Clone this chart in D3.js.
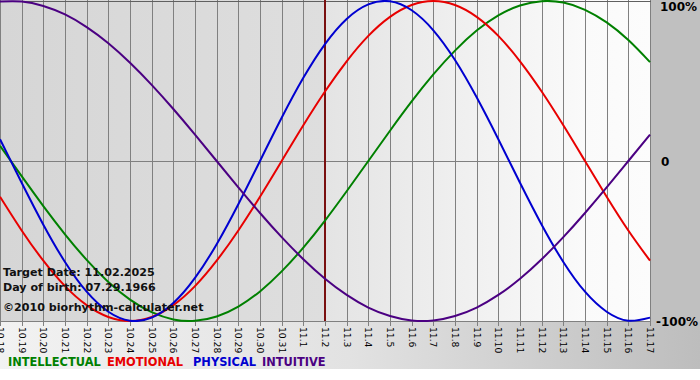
<!DOCTYPE html>
<html><head><meta charset="utf-8">
<script src="https://cdn.jsdelivr.net/npm/d3@7"></script>
<style>html,body{margin:0;padding:0;background:#fff;}svg{display:block;}</style>
</head><body>
<script>
const dates = ["10.18","10.19","10.20","10.21","10.22","10.23","10.24","10.25","10.26","10.27","10.28","10.29","10.30","10.31","11.1","11.2","11.3","11.4","11.5","11.6","11.7","11.8","11.9","11.10","11.11","11.12","11.13","11.14","11.15","11.16","11.17"];
const physical = [0.136,-0.136,-0.398,-0.631,-0.817,-0.942,-0.998,-0.979,-0.888,-0.731,-0.520,-0.270,0,0.270,0.520,0.731,0.888,0.979,0.998,0.942,0.817,0.631,0.398,0.136,-0.136,-0.398,-0.631,-0.817,-0.942,-0.998,-0.979];
const emotional = [-0.223,-0.434,-0.623,-0.782,-0.901,-0.975,-1.000,-0.975,-0.901,-0.782,-0.623,-0.434,-0.223,0,0.223,0.434,0.623,0.782,0.901,0.975,1.000,0.975,0.901,0.782,0.623,0.434,0.223,0,-0.223,-0.434,-0.623];
const intellectual = [0.095,-0.095,-0.282,-0.458,-0.618,-0.756,-0.866,-0.945,-0.990,-0.999,-0.972,-0.910,-0.815,-0.690,-0.541,-0.372,-0.189,0,0.189,0.372,0.541,0.690,0.815,0.910,0.972,0.999,0.990,0.945,0.866,0.756,0.618];
const intuitive = [0.997,0.997,0.969,0.916,0.837,0.736,0.614,0.476,0.325,0.165,0,-0.165,-0.325,-0.476,-0.614,-0.736,-0.837,-0.916,-0.969,-0.997,-0.997,-0.969,-0.916,-0.837,-0.736,-0.614,-0.476,-0.325,-0.165,0,0.165];
const yTicks = [1, 0, -1];
const yTickLabels = ["100%", "0", "-100%"];
const targetDate = "11.2";
const infoLines = ["Target Date: 11.02.2025", "Day of birth: 07.29.1966", "\u00a92010 biorhythm-calculater.net"];
const legendNames = ["INTELLECTUAL", "EMOTIONAL", "PHYSICAL", "INTUITIVE"];

const W = 700, H = 380;
const plotL = 0, plotR = 650, plotT = 1, plotB = 321;
const colors = {INTELLECTUAL:"#008000", EMOTIONAL:"#e80000", PHYSICAL:"#0000d0", INTUITIVE:"#4b0082"};
const seriesList = [
  {name:"INTELLECTUAL", values:intellectual},
  {name:"EMOTIONAL", values:emotional},
  {name:"PHYSICAL", values:physical},
  {name:"INTUITIVE", values:intuitive}
];

const svg = d3.select("body").append("svg").attr("width", W).attr("height", H);
const defs = svg.append("defs");
function grad(id, stops){
  const g = defs.append("linearGradient").attr("id", id).attr("x1","0").attr("x2","1").attr("y1","0").attr("y2","0");
  stops.forEach(s => g.append("stop").attr("offset", s[0]).attr("stop-color", s[1]));
}
grad("gBottom", [[0,"#f2f2f2"],[0.5,"#e2e2e2"],[1,"#bdbdbd"]]);
grad("gLeft", [[0,"#d6d6d6"],[1,"#dedede"]]);
grad("gRight", [[0,"#e4e4e4"],[0.8,"#fafafa"],[1,"#fcfcfc"]]);

const x = d3.scaleLinear().domain([0, dates.length - 1]).range([plotL, plotR]);
const y = d3.scaleLinear().domain([-1, 1]).range([plotB, plotT]);
const tIdx = dates.indexOf(targetDate);

// backgrounds
svg.append("rect").attr("x",0).attr("y",0).attr("width",W).attr("height",369).attr("fill","url(#gBottom)");
svg.append("rect").attr("x",plotR+1).attr("y",0).attr("width",W-plotR-1).attr("height",plotB+1).attr("fill","#c0c0c0");
svg.append("rect").attr("x",plotL).attr("y",0).attr("width",x(tIdx)-plotL).attr("height",plotB).attr("fill","url(#gLeft)");
svg.append("rect").attr("x",x(tIdx)).attr("y",0).attr("width",plotR-x(tIdx)).attr("height",plotB).attr("fill","url(#gRight)");

// vertical grid + tick marks via axis
const xAxis = d3.axisBottom(x).tickValues(d3.range(dates.length)).tickFormat(i => dates[i]).tickSize(plotB + 5).tickSizeOuter(0);
const gx = svg.append("g").attr("transform","translate(0,0)").call(xAxis);
gx.select(".domain").remove();
gx.selectAll(".tick line").attr("stroke","#808080").attr("stroke-width",1).attr("y1",0);
gx.selectAll(".tick").attr("transform", i => `translate(${Math.round(x(i))+0.5},0)`);
gx.selectAll(".tick text")
  .attr("font-family","DejaVu Sans, Verdana, sans-serif").attr("font-size","9.2px").attr("fill","#000")
  .attr("transform", `translate(0,${plotB+6}) rotate(90)`)
  .attr("x",0).attr("y",0).attr("dy","0.35em").attr("text-anchor","start");

// horizontal grid lines
const yAxis = d3.axisRight(y).tickValues(yTicks).tickFormat((d,i) => yTickLabels[i]).tickSize(0);
svg.append("g").selectAll("line").data(yTicks).join("line")
  .attr("x1", plotL).attr("x2", plotR + 1)
  .attr("y1", d => Math.round(y(d)) + 0.5).attr("y2", d => Math.round(y(d)) + 0.5)
  .attr("stroke", d => d === 1 ? "#606060" : "#808080").attr("stroke-width",1);

const gy = svg.append("g").attr("transform",`translate(${plotR+6},0)`).call(yAxis);
gy.select(".domain").remove();
gy.selectAll(".tick text").attr("font-family","DejaVu Sans, Verdana, sans-serif").attr("font-weight","bold")
  .attr("font-size","12px").attr("fill","#000").attr("x", (d) => d === 0 ? 5 : (d === 1 ? 4 : 0)).attr("dy","0.35em");
gy.selectAll(".tick").filter(d => d === 1).attr("transform", `translate(0,${y(1)+6})`);

// target line
svg.append("line").attr("x1", x(tIdx)).attr("x2", x(tIdx)).attr("y1", 0).attr("y2", plotB)
  .attr("stroke","#7a1010").attr("stroke-width",2);

// curves
const line = d3.line().x((d,i) => x(i)).y(d => y(d)).curve(d3.curveNatural);
const clip = defs.append("clipPath").attr("id","plotClip");
clip.append("rect").attr("x",plotL).attr("y",0).attr("width",plotR-plotL+2).attr("height",plotB+1);
svg.append("g").attr("clip-path","url(#plotClip)").selectAll("path").data(seriesList).join("path")
  .attr("d", d => line(d.values)).attr("fill","none")
  .attr("stroke", d => colors[d.name]).attr("stroke-width",2);

// info text
svg.append("g").selectAll("text").data(infoLines).join("text")
  .attr("x", 3).attr("y", (d,i) => [276, 291, 311][i])
  .attr("font-family","DejaVu Sans, Verdana, sans-serif").attr("font-weight","bold").attr("font-size","11.1px")
  .attr("fill","#111").text(d => d);

// legend
const legendX = [8, 107, 193, 262];
svg.append("g").selectAll("text").data(legendNames).join("text")
  .attr("x", (d,i) => legendX[i]).attr("y", 366)
  .attr("font-family","DejaVu Sans, Verdana, sans-serif").attr("font-weight","bold").attr("font-size","11.4px")
  .attr("fill", d => colors[d]).text(d => d);
</script>
</body></html>
